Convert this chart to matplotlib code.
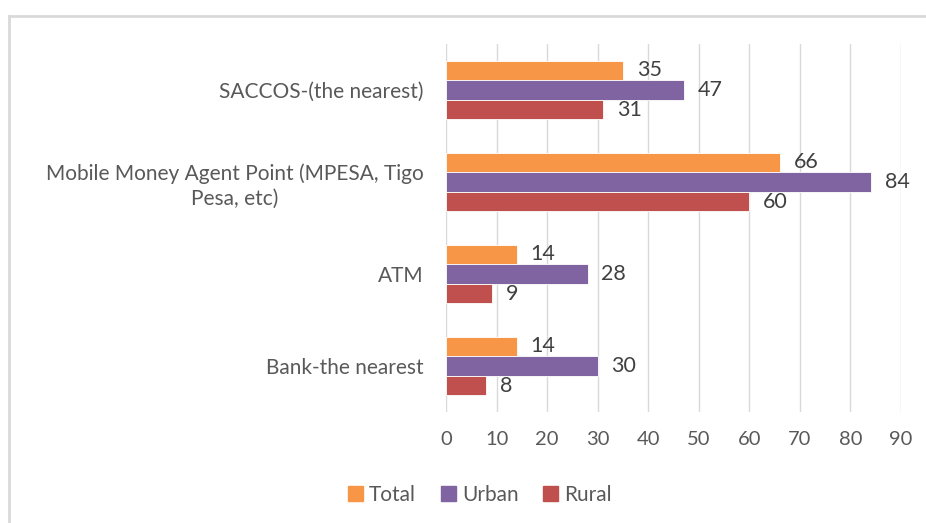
import matplotlib.pyplot as plt
import numpy as np
from matplotlib.lines import Line2D

categories = ["Bank-the nearest", "ATM",
              "Mobile Money Agent Point (MPESA, Tigo\nPesa, etc)",
              "SACCOS-(the nearest)"]
total = [14, 14, 66, 35]
urban = [30, 28, 84, 47]
rural = [8, 9, 60, 31]
series_names = ["Total", "Urban", "Rural"]
colors = ["#F79646", "#8064A2", "#C0504D"]

plt.rcParams['font.family'] = ['Lato', 'DejaVu Sans']

fig = plt.figure(figsize=(9.26, 5.23), dpi=100)
ax = fig.add_axes([446 / 926, 1 - 412 / 523, (901 - 446) / 926, (412 - 44) / 523])

y = np.arange(len(categories))
h = 0.212
offsets = [h, 0, -h]
for vals, off, col, name in zip([total, urban, rural], offsets, colors, series_names):
    bars = ax.barh(y + off, vals, height=h, color=col, edgecolor='white',
                   linewidth=0.6, label=name, zorder=2)
    for b, v in zip(bars, vals):
        ax.annotate(str(v), (b.get_width(), b.get_y() + b.get_height() / 2),
                    xytext=(10, 0), textcoords='offset points',
                    ha='left', va='center', fontsize=15.5, color='#404040')

ax.set_xlim(0, 90)
ax.set_ylim(-0.5, 3.5)
ax.set_xticks(range(0, 91, 10))
ax.set_yticks(y)
ax.set_yticklabels(categories, multialignment='center', linespacing=1.3)
ax.tick_params(axis='y', length=0, pad=16, labelsize=15, labelcolor='#595959')
ax.tick_params(axis='x', length=0, pad=14, labelsize=14.5, labelcolor='#595959')
ax.grid(axis='x', color='#D9D9D9', linewidth=1, zorder=0)
for s in ax.spines.values():
    s.set_visible(False)

handles = [plt.Rectangle((0, 0), 1, 1, color=c) for c in colors]
fig.legend(handles, series_names, loc='center', bbox_to_anchor=(480 / 926, 1 - 495 / 523),
           ncol=3, frameon=False, fontsize=15, labelcolor='#595959',
           handlelength=0.7, handleheight=0.7, handletextpad=0.3, columnspacing=1.2)

# outer chart frame (top and left edges only visible)
fig.add_artist(Line2D([9 / 926, 1], [1 - 16 / 523, 1 - 16 / 523], color='#D9D9D9', lw=2))
fig.add_artist(Line2D([9 / 926, 9 / 926], [0, 1 - 16 / 523], color='#D9D9D9', lw=2))

fig.savefig('out.png', dpi=100)
